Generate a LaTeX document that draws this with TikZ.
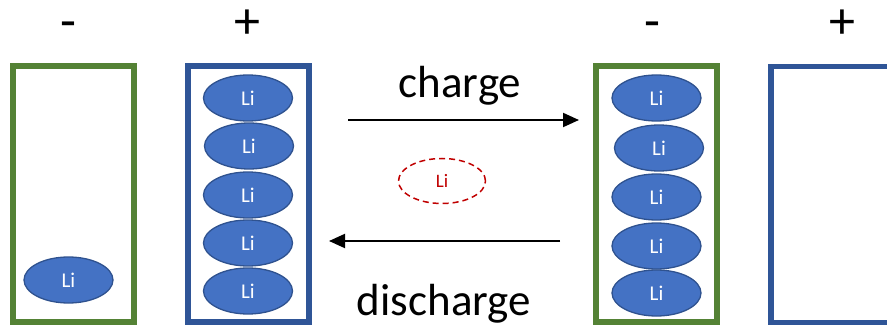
\documentclass[tikz,border=0pt]{standalone}
\usepackage{fontspec}
\setmainfont{Carlito}
\usetikzlibrary{shapes.geometric,arrows.meta}
\definecolor{elgreen}{HTML}{548235}
\definecolor{elblue}{HTML}{2F5597}
\definecolor{lifill}{HTML}{4472C4}
\definecolor{liedge}{HTML}{2F528F}
\definecolor{lired}{HTML}{C00000}
\tikzset{
  electrode/.style={draw, line width=5.5pt, minimum width=121pt, minimum height=256pt, inner sep=0pt},
  anode/.style={electrode, draw=elgreen},
  cathode/.style={electrode, draw=elblue},
  ion/.style={ellipse, draw=liedge, fill=lifill, line width=1.3pt, minimum width=89pt, minimum height=46pt, inner sep=0pt, text=white, font=\fontsize{21}{21}\selectfont},
  freeion/.style={ellipse, draw=lired, dashed, dash pattern=on 6pt off 4pt, line width=1.5pt, minimum width=87pt, minimum height=45pt, inner sep=0pt, text=lired, font=\fontsize{19}{19}\selectfont},
  sign/.style={anchor=base, inner sep=0pt, font=\fontsize{52}{52}\selectfont},
  proc/.style={font=\fontsize{45}{45}\selectfont},
  flow/.style={line width=2pt, -{Triangle[length=16pt, width=14pt]}}
}
\begin{document}
\begin{tikzpicture}[x=1pt,y=-1pt]
\useasboundingbox (0,0) rectangle (887,326);
% electrodes
\node[anode] (a1) at (73.5,194) {};
\node[cathode] (c1) at (248.5,194) {};
\node[anode] (a2) at (656.5,194) {};
\node[cathode] (c2) at (831.5,194.5) {};
% signs
\node[sign] (s1) at (68,39) {-};
\node[sign] (s2) at (247,39) {+};
\node[sign] (s3) at (652,39) {-};
\node[sign] (s4) at (842,39) {+};
% ions
\node[ion] (i0) at (68.5,280) {Li};
\node[ion] (i1) at (248,98) {Li};
\node[ion] (i2) at (249,146) {Li};
\node[ion] (i3) at (248,195) {Li};
\node[ion] (i4) at (248,243) {Li};
\node[ion] (i5) at (248,291) {Li};
\node[ion] (j1) at (656.5,98) {Li};
\node[ion] (j2) at (659,148) {Li};
\node[ion] (j3) at (656.5,197) {Li};
\node[ion] (j4) at (656.5,246) {Li};
\node[ion] (j5) at (656.5,293) {Li};
\node[freeion] (f) at (442,181) {Li};
% arrows
\coordinate (ch1) at (348,120);
\coordinate (ch2) at (579,120);
\coordinate (dc1) at (560,241);
\coordinate (dc2) at (329,241);
\draw[flow] (ch1) -- (ch2);
\draw[flow] (dc1) -- (dc2);
\node[proc] (tch) at (460,86) {charge};
\node[proc] (tdc) at (444,304) {discharge};
\end{tikzpicture}
\end{document}
